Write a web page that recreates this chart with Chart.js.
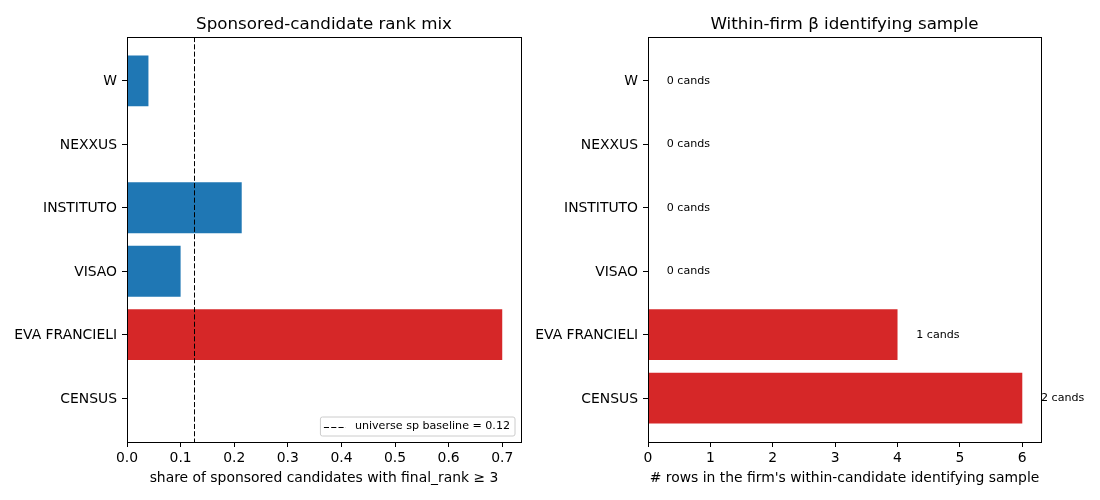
<!DOCTYPE html>
<html><head><meta charset="utf-8">
<script src="https://cdn.jsdelivr.net/npm/chart.js@4"></script>
<style>
html,body{margin:0;padding:0;background:#fff;}
#wrap{position:relative;width:1100px;height:500px;overflow:hidden;background:#fff;}
canvas{position:absolute;top:0;}
</style></head><body>
<div id="wrap">
<canvas id="c1" width="550" height="500" style="left:0px;width:550px;height:500px"></canvas>
<canvas id="c2" width="600" height="500" style="left:500px;width:600px;height:500px"></canvas>
</div>
<script>
// ---- data ----
const firms = ['W', 'NEXXUS', 'INSTITUTO', 'VISAO', 'EVA FRANCIELI', 'CENSUS'];
const rankShare = [0.04, 0, 0.214, 0.1, 0.7, 0];
const rankColors = ['#1f77b4', '#1f77b4', '#1f77b4', '#1f77b4', '#d62728', '#1f77b4'];
const baseline = 0.125;
const baselineLabel = 'universe sp baseline = 0.12';
const idRows = [0, 0, 0, 0, 4, 6];
const idCands = [0, 0, 0, 0, 1, 2];
const idColors = ['#d62728', '#d62728', '#d62728', '#d62728', '#d62728', '#d62728'];
const xTicks1 = [0, 0.1, 0.2, 0.3, 0.4, 0.5, 0.6, 0.7];
const xTicks2 = [0, 1, 2, 3, 4, 5, 6];
const title1 = 'Sponsored-candidate rank mix';
const title2 = 'Within-firm \u03B2 identifying sample';
const xLabel1 = 'share of sponsored candidates with final_rank \u2265 3';
const xLabel2 = "# rows in the firm's within-candidate identifying sample";

// ---- styling ----
const FONT = '"DejaVu Sans", sans-serif';
const DASH = [5.1, 2.2];
Chart.defaults.font.family = FONT;
Chart.defaults.color = '#000';
Chart.defaults.animation = false;

const framePlugin = {
  id: 'frame',
  afterDraw(chart, args, opts) {
    const a = chart.chartArea, ctx = chart.ctx;
    ctx.save();
    ctx.strokeStyle = '#000';
    ctx.lineWidth = 1;
    ctx.strokeRect(Math.round(a.left) + 0.5, Math.round(a.top) + 0.5,
      Math.round(a.right - a.left), Math.round(a.bottom - a.top));
    ctx.font = '16.7px ' + FONT;
    ctx.fillStyle = '#000';
    ctx.textAlign = 'center';
    ctx.textBaseline = 'alphabetic';
    ctx.fillText(opts.title, (a.left + a.right) / 2, a.top - 8.3);
    ctx.restore();
  }
};

const baselinePlugin = {
  id: 'baseline',
  afterDatasetsDraw(chart, args, opts) {
    if (!opts.on) return;
    const a = chart.chartArea, ctx = chart.ctx;
    const x = Math.round(chart.scales.x.getPixelForValue(baseline)) + 0.5;
    ctx.save();
    ctx.strokeStyle = '#000';
    ctx.lineWidth = 1;
    ctx.setLineDash(DASH);
    ctx.beginPath();
    ctx.moveTo(x, a.top);
    ctx.lineTo(x, a.bottom);
    ctx.stroke();
    ctx.restore();
  },
  afterDraw(chart, args, opts) {
    if (!opts.on) return;
    const a = chart.chartArea, ctx = chart.ctx;
    ctx.save();
    ctx.font = '11.1px ' + FONT;
    const tw = ctx.measureText(baselineLabel).width;
    const boxR = a.right - 6, boxB = a.bottom - 6, boxT = boxB - 19;
    const textR = boxR - 5, textL = textR - tw;
    const lineR = textL - 9, lineL = lineR - 22;
    const boxL = lineL - 3.5;
    const cy = (boxT + boxB) / 2;
    ctx.beginPath();
    const r = 2;
    ctx.moveTo(boxL + r, boxT);
    ctx.arcTo(boxR, boxT, boxR, boxB, r);
    ctx.arcTo(boxR, boxB, boxL, boxB, r);
    ctx.arcTo(boxL, boxB, boxL, boxT, r);
    ctx.arcTo(boxL, boxT, boxR, boxT, r);
    ctx.closePath();
    ctx.fillStyle = 'rgba(255,255,255,0.8)';
    ctx.fill();
    ctx.strokeStyle = '#cccccc';
    ctx.lineWidth = 1;
    ctx.stroke();
    ctx.strokeStyle = '#000';
    ctx.lineWidth = 1.2;
    ctx.setLineDash(DASH);
    ctx.beginPath();
    ctx.moveTo(lineL, Math.round(cy) + 0.5);
    ctx.lineTo(lineR, Math.round(cy) + 0.5);
    ctx.stroke();
    ctx.setLineDash([]);
    ctx.fillStyle = '#000';
    ctx.textAlign = 'left';
    ctx.textBaseline = 'middle';
    ctx.fillText(baselineLabel, textL, cy);
    ctx.restore();
  }
};

const candsPlugin = {
  id: 'cands',
  afterDatasetsDraw(chart, args, opts) {
    if (!opts.on) return;
    const ctx = chart.ctx, xs = chart.scales.x, ys = chart.scales.y;
    ctx.save();
    ctx.font = '11.1px ' + FONT;
    ctx.fillStyle = '#000';
    ctx.textAlign = 'left';
    ctx.textBaseline = 'middle';
    idRows.forEach((v, i) => {
      ctx.fillText(idCands[i] + ' cands', xs.getPixelForValue(v + 0.3), ys.getPixelForValue(i));
    });
    ctx.restore();
  }
};

function makeChart(id, values, colors, xMax, xTicks, fmt, xLabel, title, yWidth, padRight, isLeft) {
  return new Chart(document.getElementById(id), {
    type: 'bar',
    data: {
      datasets: [{
        data: firms.map((f, i) => ({ x: values[i], y: i })),
        backgroundColor: colors,
        borderWidth: 0,
        barPercentage: 0.8,
        categoryPercentage: 1.0
      }]
    },
    options: {
      indexAxis: 'y',
      responsive: false,
      animation: false,
      layout: { padding: { top: 37, right: padRight, bottom: 0, left: 0 } },
      plugins: {
        legend: { display: false },
        tooltip: { enabled: false },
        frame: { title: title },
        baseline: { on: isLeft },
        cands: { on: !isLeft }
      },
      scales: {
        x: {
          type: 'linear',
          min: 0, max: xMax,
          offset: false,
          afterBuildTicks: s => { s.ticks = xTicks.map(v => ({ value: v })); },
          ticks: { callback: v => fmt(v), font: { size: 13.9 }, padding: 3, maxRotation: 0, autoSkip: false, color: '#000' },
          grid: { display: true, offset: false, drawOnChartArea: false, drawTicks: true, tickLength: 5, color: '#000', lineWidth: 1 },
          border: { display: false },
          title: { display: true, text: xLabel, font: { size: 13.9 }, color: '#000', padding: { top: 0, bottom: 13 } },
          afterFit: s => { s.height = 58; }
        },
        y: {
          type: 'linear',
          reverse: true,
          offset: false,
          min: -0.69, max: 5.69,
          afterBuildTicks: s => { s.ticks = firms.map((f, i) => ({ value: i })); },
          ticks: { callback: v => firms[v], font: { size: 13.9 }, padding: 5, labelOffset: 1, autoSkip: false, color: '#000' },
          grid: { display: true, offset: false, drawOnChartArea: false, drawTicks: true, tickLength: 5, color: '#000', lineWidth: 1 },
          border: { display: false },
          afterFit: s => { s.width = yWidth; }
        }
      }
    },
    plugins: [framePlugin, baselinePlugin, candsPlugin]
  });
}

makeChart('c1', rankShare, rankColors, 0.735, xTicks1, v => v.toFixed(1), xLabel1, title1, 127, 29, true);
makeChart('c2', idRows, idColors, 6.3, xTicks2, v => String(v), xLabel2, title2, 148, 59, false);
</script>
</body></html>
